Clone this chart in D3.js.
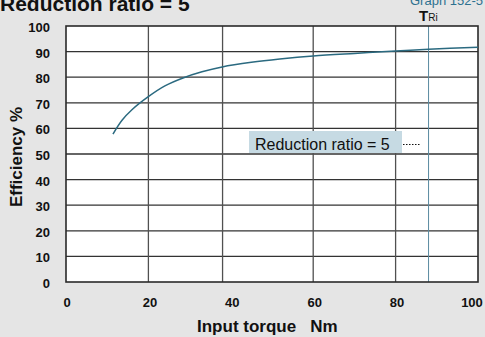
<!DOCTYPE html>
<html>
<head>
<meta charset="utf-8">
<script src="https://cdn.jsdelivr.net/npm/d3@7"></script>
<style>
  html, body { margin: 0; padding: 0; background: #e5e5e5; }
  svg { display: block; font-family: "Liberation Sans", Arial, Helvetica, sans-serif; }
</style>
</head>
<body>
<svg id="chart" width="485" height="337"></svg>
<script>
// Efficiency curve, reduction ratio 5 (input torque Nm, efficiency %)
const torque     = [11.4, 13.6, 16.0, 19.9, 24.0, 28.4, 33.0, 37.9, 45.0, 51.9, 60.0, 70.0, 80.0, 88.0, 100.0];
const efficiency = [57.8, 63.2, 67.3, 72.3, 76.6, 79.7, 82.1, 84.0, 85.8, 87.1, 88.3, 89.3, 90.2, 90.9, 91.7];

const xTickLabels = [0, 20, 40, 60, 80, 100];
const yTickLabels = [0, 10, 20, 30, 40, 50, 60, 70, 80, 90, 100];
const xGridLines  = [20, 38, 60, 80];
const ratedTorque = 88;   // T_Ri marker

const svg = d3.select("#chart");
const plot = { left: 66, right: 478, top: 26, bottom: 282 };

const x = d3.scaleLinear().domain([0, 100]).range([plot.left, plot.right]);
const y = d3.scaleLinear().domain([0, 100]).range([plot.bottom, plot.top]);

// plot background
svg.append("rect")
  .attr("x", plot.left).attr("y", plot.top)
  .attr("width", plot.right - plot.left).attr("height", plot.bottom - plot.top)
  .attr("fill", "#ffffff");

// horizontal grid
svg.append("g").selectAll("line")
  .data(yTickLabels.filter(v => v > 0 && v < 100))
  .join("line")
  .attr("x1", plot.left).attr("x2", plot.right)
  .attr("y1", d => y(d)).attr("y2", d => y(d))
  .attr("stroke", "#333333").attr("stroke-width", 1.3);

// vertical grid
svg.append("g").selectAll("line")
  .data(xGridLines)
  .join("line")
  .attr("x1", d => x(d)).attr("x2", d => x(d))
  .attr("y1", plot.top).attr("y2", plot.bottom)
  .attr("stroke", "#505050").attr("stroke-width", 1.3);

// T_Ri line
svg.append("line")
  .attr("x1", x(ratedTorque)).attr("x2", x(ratedTorque))
  .attr("y1", plot.top).attr("y2", plot.bottom)
  .attr("stroke", "#5a8aa0").attr("stroke-width", 1);

// frame
svg.append("rect")
  .attr("x", plot.left).attr("y", plot.top)
  .attr("width", plot.right - plot.left).attr("height", plot.bottom - plot.top)
  .attr("fill", "none").attr("stroke", "#2a2a2a").attr("stroke-width", 1.6);

// efficiency curve
const pts = torque.map((t, i) => [t, efficiency[i]]);
svg.append("path")
  .datum(pts)
  .attr("fill", "none")
  .attr("stroke", "#2b6a80")
  .attr("stroke-width", 1.5)
  .attr("d", d3.line().x(d => x(d[0])).y(d => y(d[1])).curve(d3.curveCatmullRom.alpha(0.5)));

// y tick labels
svg.append("g").selectAll("text")
  .data(yTickLabels)
  .join("text")
  .attr("x", 50).attr("y", d => y(d) + 6)
  .attr("text-anchor", "end")
  .attr("font-size", 13).attr("font-weight", "bold").attr("fill", "#111")
  .text(d => d);

// x tick labels
const xLabelPos = d => d === 100 ? 472 : x(d) + (d === 0 ? 1 : 1.5);
svg.append("g").selectAll("text")
  .data(xTickLabels)
  .join("text")
  .attr("x", xLabelPos)
  .attr("y", 307)
  .attr("text-anchor", "middle")
  .attr("font-size", 13).attr("font-weight", "bold").attr("fill", "#111")
  .text(d => d);

// axis titles
svg.append("text")
  .attr("x", 197).attr("y", 332)
  .attr("font-size", 17).attr("font-weight", "bold").attr("fill", "#111")
  .attr("xml:space", "preserve")
  .text("Input torque   Nm");

svg.append("text")
  .attr("transform", "translate(22,157) rotate(-90)")
  .attr("text-anchor", "middle")
  .attr("font-size", 17).attr("font-weight", "bold").attr("fill", "#111")
  .text("Efficiency %");

// chart title, running off the top edge
svg.append("text")
  .attr("x", 0).attr("y", 11)
  .attr("font-size", 21).attr("font-weight", "bold").attr("fill", "#111")
  .text("Reduction ratio = 5");

svg.append("text")
  .attr("x", 483).attr("y", 5)
  .attr("text-anchor", "end")
  .attr("font-size", 13).attr("fill", "#2d7190")
  .text("Graph 152-5");

// T_Ri label
const tri = svg.append("text")
  .attr("x", 419).attr("y", 21)
  .attr("font-size", 15).attr("font-weight", "bold").attr("fill", "#111");
tri.append("tspan").text("T");
tri.append("tspan").attr("font-size", 10).attr("font-weight", "normal").text("Ri");

// legend
svg.append("rect")
  .attr("x", 249).attr("y", 131).attr("width", 153).attr("height", 22)
  .attr("fill", "#c6dae3");
svg.append("text")
  .attr("x", 255).attr("y", 149.5)
  .attr("font-size", 16).attr("fill", "#111")
  .text("Reduction ratio = 5");
svg.append("line")
  .attr("x1", 403).attr("x2", 421).attr("y1", 144.5).attr("y2", 144.5)
  .attr("stroke", "#111").attr("stroke-width", 1).attr("stroke-dasharray", "1.5,1.5");
</script>
</body>
</html>
